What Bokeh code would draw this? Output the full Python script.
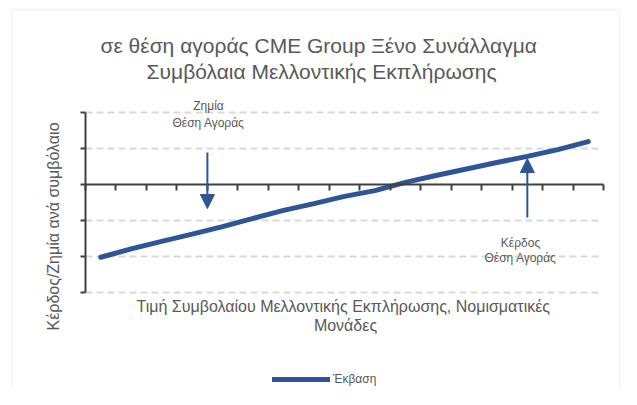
from bokeh.plotting import figure
from bokeh.models import (Range1d, FixedTicker, Label, Arrow, NormalHead,
                          Legend, LegendItem, BoxAnnotation, LinearAxis)
from bokeh.embed import file_html
from bokeh.resources import INLINE

# ---- data ----
price_steps = list(range(17))          # futures price steps (categories)
outcome = [-2.02, -1.79, -1.58, -1.38, -1.17, -0.94, -0.72, -0.53, -0.33,
           -0.17, 0.06, 0.25, 0.43, 0.61, 0.78, 0.97, 1.19]
y_ticks = [-3, -2, -1, 0, 1, 2]
x_ticks = list(range(18))

title_lines = ["σε θέση αγοράς CME  Group  Ξένο Συνάλλαγμα",
               "Συμβόλαια Μελλοντικής  Εκπλήρωσης"]
y_title = "Κέρδος/Ζημία ανά συμβόλαιο"
x_title_lines = ["Τιμή  Συμβολαίου Μελλοντικής Εκπλήρωσης, Νομισματικές", "Μονάδες"]
loss_text = ["Ζημία", "Θέση Αγοράς"]
gain_text = ["Κέρδος", "Θέση Αγοράς"]
legend_label = "Έκβαση"

BLUE = "#2E5597"
GREY_TXT = "#595959"
AXIS = "#404040"
FONT = "Liberation Sans"

W, H = 621, 389
FL, FT = 10, 8                 # frame left / top in canvas px
X0PX, X17PX = 85, 603          # where x=0 and x=17 land
Y0PX, PXY = 184, 36            # where y=0 lands, px per y unit
PXX = (X17PX - X0PX) / 17

def px2x(px):
    return (px - X0PX) / PXX

def px2y(py):
    return (Y0PX - py) / PXY

xs = [s + 0.5 for s in price_steps]

p = figure(width=W, height=H, output_backend="svg", toolbar_location=None,
           x_range=Range1d(px2x(FL), px2x(W)), y_range=Range1d(px2y(H), px2y(FT)),
           x_axis_location=None, y_axis_location=None,
           min_border_left=FL, min_border_right=0,
           min_border_top=FT, min_border_bottom=0)
p.outline_line_color = None
p.background_fill_color = "white"
p.border_fill_color = "white"
p.xgrid.visible = False
p.ygrid.visible = False

# y axis at x = 0
ya = LinearAxis(fixed_location=0, bounds=(y_ticks[0], y_ticks[-1]),
                ticker=FixedTicker(ticks=y_ticks),
                major_label_overrides={t: "" for t in y_ticks},
                major_label_standoff=0,
                axis_line_color=AXIS, axis_line_width=2,
                major_tick_line_color=AXIS, major_tick_line_width=2,
                major_tick_out=5, major_tick_in=0, minor_tick_line_color=None)
p.add_layout(ya, "left")

# x axis crossing at y = 0
xa = LinearAxis(fixed_location=0, bounds=(x_ticks[0], x_ticks[-1]),
                ticker=FixedTicker(ticks=x_ticks),
                major_label_overrides={t: "" for t in x_ticks},
                major_label_standoff=0,
                axis_line_color=AXIS, axis_line_width=2,
                major_tick_line_color=AXIS, major_tick_line_width=2,
                major_tick_out=0, major_tick_in=6, minor_tick_line_color=None)
p.add_layout(xa, "above")

# dashed horizontal gridlines over the category span
grid_y = [t for t in y_ticks if t != 0]
p.segment(x0=[x_ticks[0]] * len(grid_y), x1=[x_ticks[-1] - 0.1] * len(grid_y),
          y0=grid_y, y1=grid_y, line_color="#D9D9D9", line_width=2,
          line_dash="7 4", level="underlay")

r = p.line(xs, outcome, line_width=5, line_color=BLUE, line_cap="round")

# arrows
p.add_layout(Arrow(end=NormalHead(size=14, fill_color=BLUE, line_color=BLUE),
                   x_start=4, y_start=0.89, x_end=4, y_end=-0.67,
                   line_color=BLUE, line_width=2))
p.add_layout(Arrow(end=NormalHead(size=14, fill_color=BLUE, line_color=BLUE),
                   x_start=14.5, y_start=-0.92, x_end=14.5, y_end=0.72,
                   line_color=BLUE, line_width=2))

def lab(pxx, pxy, text, size, angle=0.0):
    p.add_layout(Label(x=px2x(pxx), y=px2y(pxy), text=text, text_font=FONT,
                       text_font_size=size, text_color=GREY_TXT,
                       text_align="center", text_baseline="middle",
                       angle=angle))

lab(324, 45, title_lines[0], "21px")
lab(324, 71, title_lines[1], "21px")
lab(345, 306, x_title_lines[0], "16px")
lab(345, 325, x_title_lines[1], "16px")
lab(53, 226, y_title, "16px", angle=1.5708)
lab(208, 105, loss_text[0], "12px")
lab(208, 122, loss_text[1], "12px")
lab(520, 242, gain_text[0], "12px")
lab(520, 257, gain_text[1], "12px")

legend = Legend(items=[LegendItem(label=legend_label, renderers=[r])],
                location=(272 - FL, H - 386), glyph_width=58, glyph_height=10,
                label_height=10, padding=0, margin=0, spacing=0,
                label_standoff=3, border_line_color=None,
                background_fill_alpha=0, label_text_font=FONT,
                label_text_font_size="12px", label_text_color=GREY_TXT)
p.add_layout(legend, "center")

# chart border
p.add_layout(BoxAnnotation(left=px2x(11), right=px2x(619), top=px2y(9),
                           bottom=px2y(420), fill_alpha=0,
                           line_color="#D9D9D9", line_width=2, level="underlay"))

open("out.html", "w").write(file_html(p, INLINE))
